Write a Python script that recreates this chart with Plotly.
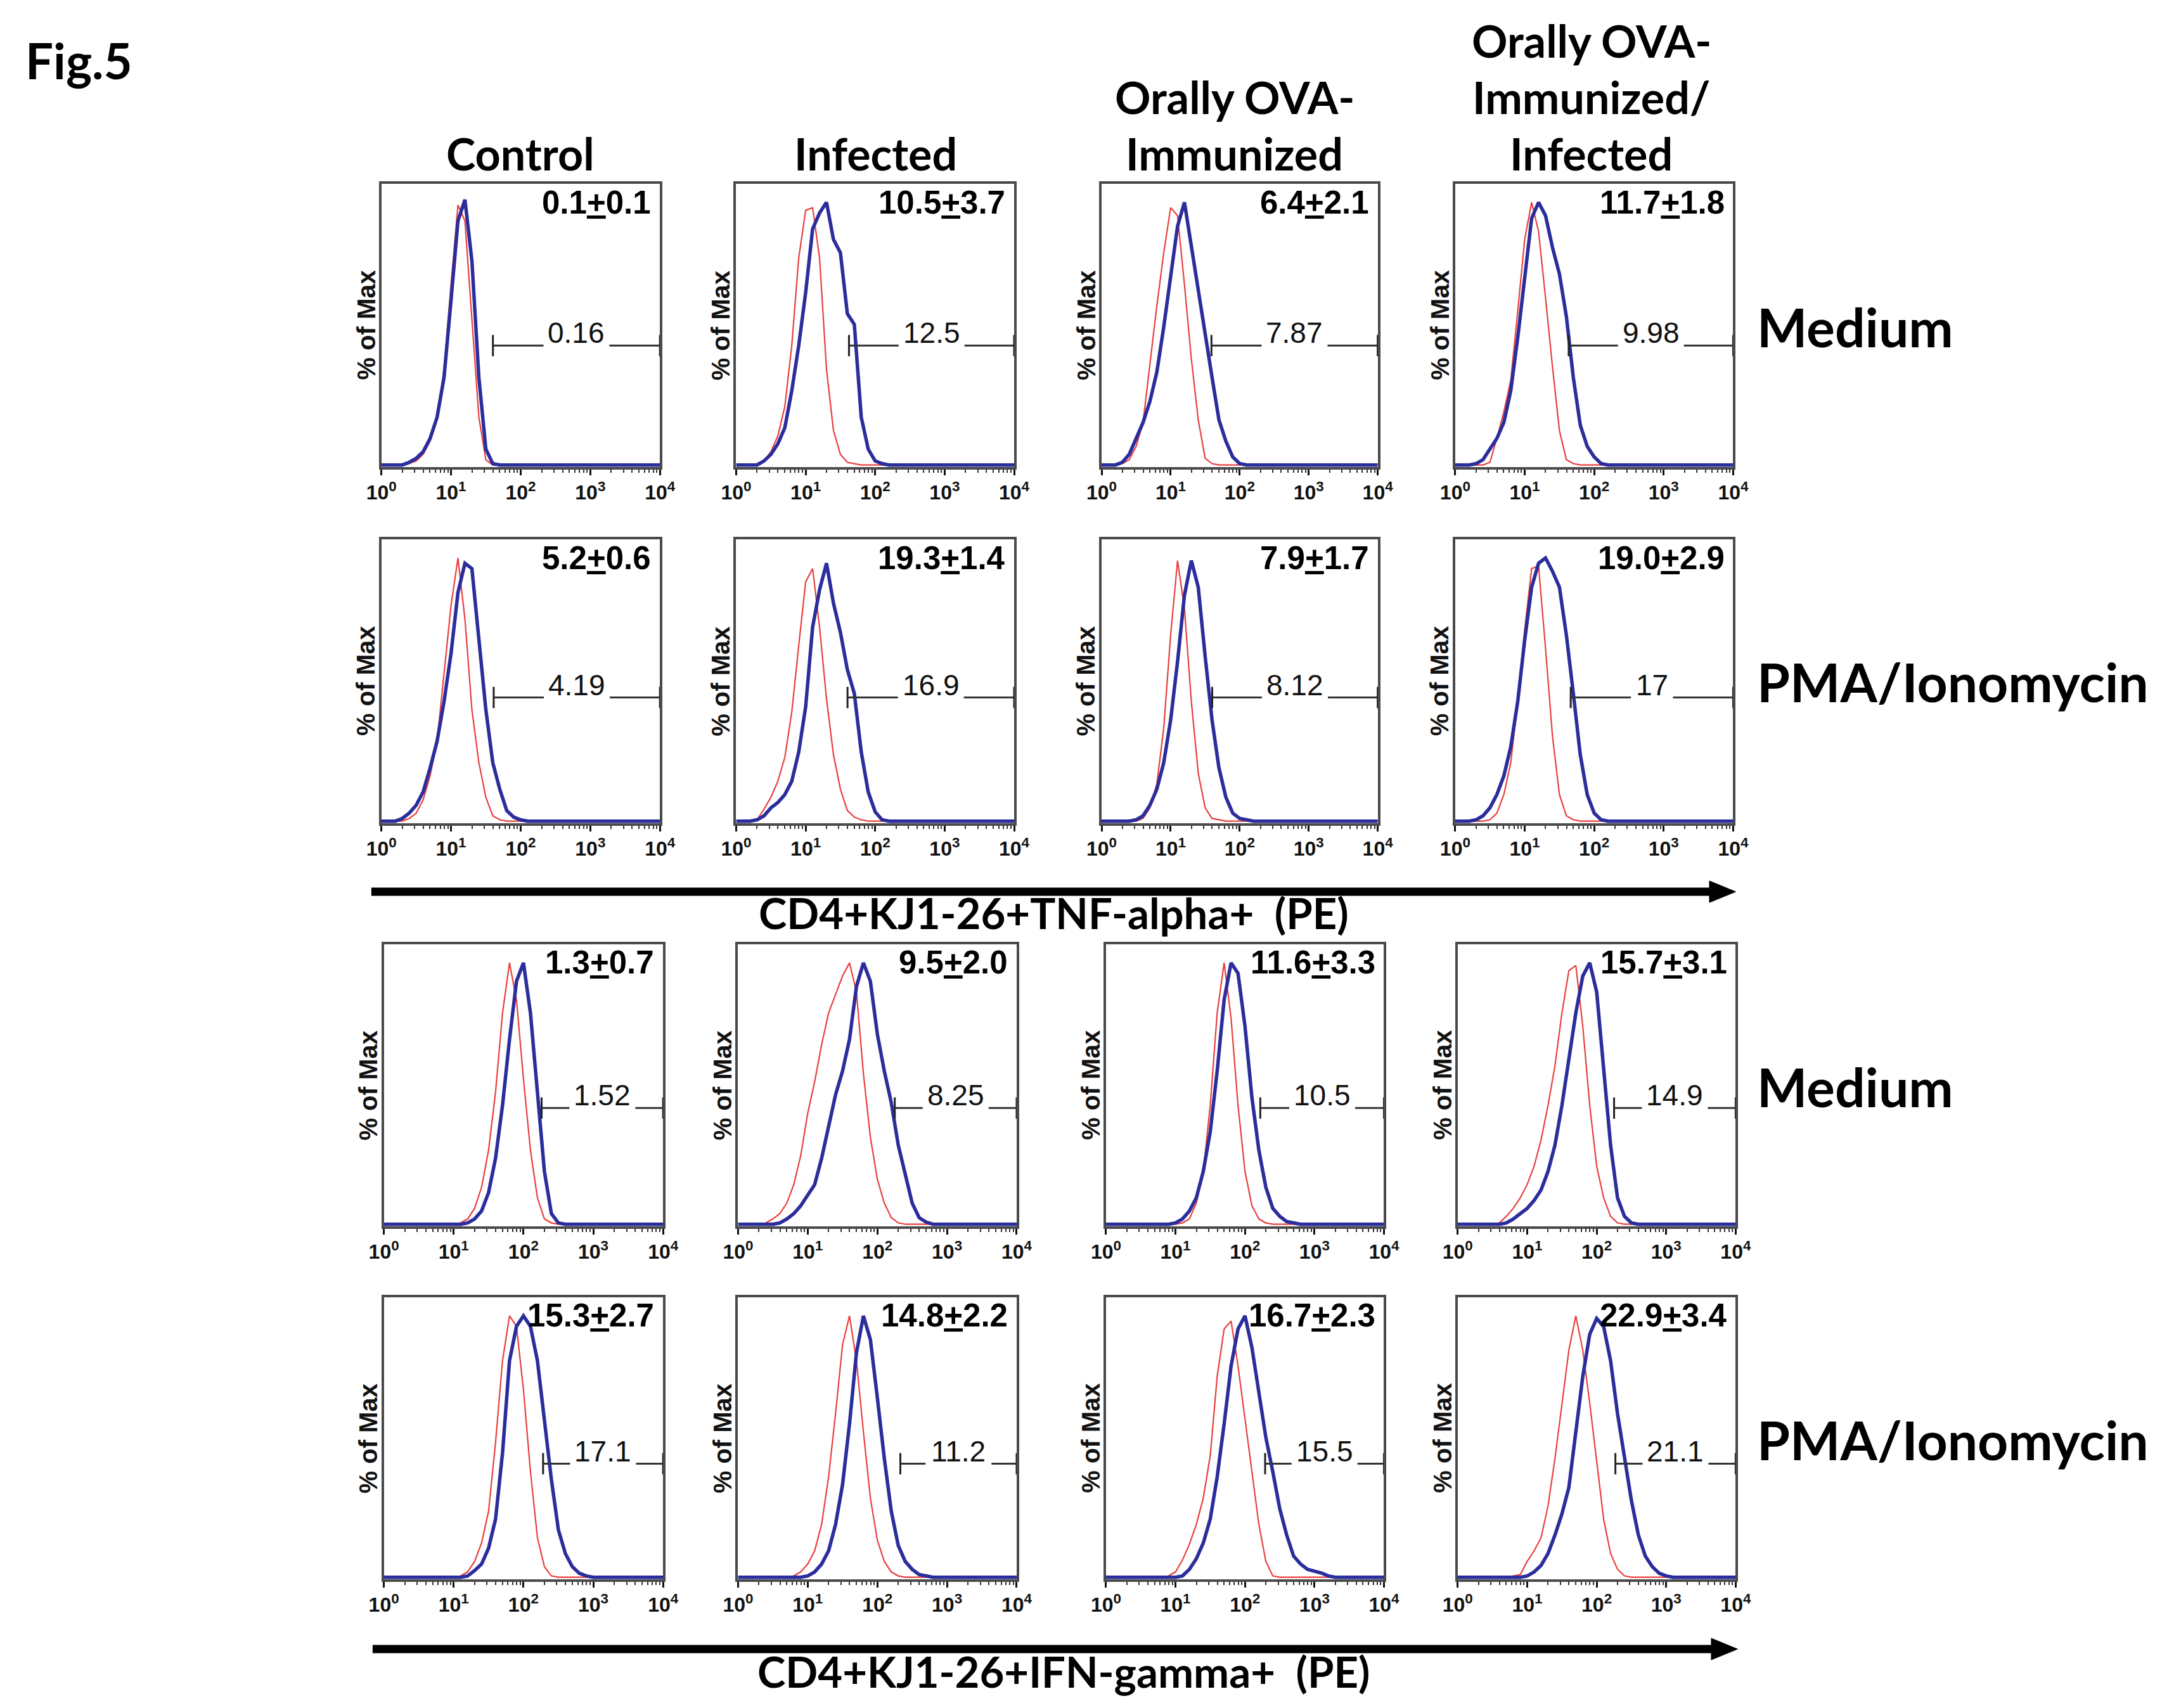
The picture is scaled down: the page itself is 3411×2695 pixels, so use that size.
import math
import plotly.graph_objects as go

# ---------------- data ----------------
LOG_BINS = [0.0, 0.1, 0.2, 0.3, 0.4, 0.5, 0.6, 0.7, 0.8, 0.9,
            1.0, 1.1, 1.2, 1.3, 1.4, 1.5, 1.6, 1.7, 1.8, 1.9,
            2.0, 2.1, 2.2, 2.3, 2.4, 2.5, 2.6, 2.7, 2.8, 2.9,
            3.0, 3.1, 3.2, 3.3, 3.4, 3.5, 3.6, 3.7, 3.8, 3.9, 4.0]

COLUMNS = ["Control", "Infected", "Orally OVA-<br>Immunized",
           "Orally OVA-<br>Immunized/<br>Infected"]
ROW_LABELS = ["Medium", "PMA/Ionomycin", "Medium", "PMA/Ionomycin"]
AXIS_TITLES = ["CD4+KJ1-26+TNF-alpha+  (PE)", "CD4+KJ1-26+IFN-gamma+  (PE)"]
TICK_VALS = [1, 10, 100, 1000, 10000]
TICK_TEXT = ["10<sup>0</sup>", "10<sup>1</sup>", "10<sup>2</sup>", "10<sup>3</sup>", "10<sup>4</sup>"]

MEAN = [[0.1, 10.5, 6.4, 11.7],
        [5.2, 19.3, 7.9, 19.0],
        [1.3, 9.5, 11.6, 15.7],
        [15.3, 14.8, 16.7, 22.9]]
SD = [[0.1, 3.7, 2.1, 1.8],
      [0.6, 1.4, 1.7, 2.9],
      [0.7, 2.0, 3.3, 3.1],
      [2.7, 2.2, 2.3, 3.4]]
GATE_PCT = [["0.16", "12.5", "7.87", "9.98"],
            ["4.19", "16.9", "8.12", "17"],
            ["1.52", "8.25", "10.5", "14.9"],
            ["17.1", "11.2", "15.5", "21.1"]]
GATE_LOW = [[40, 42, 39, 43],
            [41, 40, 40, 46],
            [182, 178, 166, 178],
            [191, 214, 195, 186]]
GATE_Y = [45, 46.5, 44, 43]

# TNF-alpha, medium
TNF_MED_CTRL_RED = [0, 0, 0, 0, 0.5, 1.5, 4, 9, 18, 36,
                    68, 98, 92, 55, 18, 2, 0, 0, 0, 0,
                    0, 0, 0, 0, 0, 0, 0, 0, 0, 0,
                    0, 0, 0, 0, 0, 0, 0, 0, 0, 0, 0]
TNF_MED_CTRL_BLUE = [0, 0, 0, 0, 1, 2.5, 5, 10, 18, 33,
                     62, 92, 100, 77, 33, 6, 0.5, 0, 0, 0,
                     0, 0, 0, 0, 0, 0, 0, 0, 0, 0,
                     0, 0, 0, 0, 0, 0, 0, 0, 0, 0, 0]
TNF_MED_INF_RED = [0, 0, 0, 0.5, 1.5, 5, 11, 22, 45, 78,
                   96, 97, 78, 36, 13, 4, 1, 0.5, 0, 0,
                   0, 0, 0, 0, 0, 0, 0, 0, 0, 0,
                   0, 0, 0, 0, 0, 0, 0, 0, 0, 0, 0]
TNF_MED_INF_BLUE = [0, 0, 0, 0, 1.5, 4, 8, 14, 28, 45,
                    65, 89, 95, 99, 85, 80, 57, 53, 18, 6,
                    1.5, 0.5, 0, 0, 0, 0, 0, 0, 0, 0,
                    0, 0, 0, 0, 0, 0, 0, 0, 0, 0, 0]
TNF_MED_OVA_RED = [0, 0, 0, 0.5, 2, 7, 16, 38, 60, 80,
                   97, 94, 68, 40, 17, 2.5, 0.5, 0, 0, 0,
                   0, 0, 0, 0, 0, 0, 0, 0, 0, 0,
                   0, 0, 0, 0, 0, 0, 0, 0, 0, 0, 0]
TNF_MED_OVA_BLUE = [0, 0, 0, 1, 4, 10, 16, 24, 35, 52,
                    72, 90, 99, 82, 65, 49, 33, 17, 9, 3,
                    0.5, 0, 0, 0, 0, 0, 0, 0, 0, 0,
                    0, 0, 0, 0, 0, 0, 0, 0, 0, 0, 0]
TNF_MED_OVAINF_RED = [0, 0, 0, 0, 0, 1, 10, 20, 32, 58,
                      85, 99, 88, 63, 37, 13, 2, 0.5, 0, 0,
                      0, 0, 0, 0, 0, 0, 0, 0, 0, 0,
                      0, 0, 0, 0, 0, 0, 0, 0, 0, 0, 0]
TNF_MED_OVAINF_BLUE = [0, 0, 0, 0.5, 2, 6, 10, 16, 28, 48,
                       72, 93, 99, 94, 82, 72, 56, 33, 15, 7,
                       3, 0.5, 0, 0, 0, 0, 0, 0, 0, 0,
                       0, 0, 0, 0, 0, 0, 0, 0, 0, 0, 0]
# TNF-alpha, PMA/Ionomycin
TNF_PMA_CTRL_RED = [0, 0, 0, 0, 1, 3, 8, 17, 30, 55,
                    81, 99, 76, 42, 22, 9, 2, 0.5, 0, 0,
                    0, 0, 0, 0, 0, 0, 0, 0, 0, 0,
                    0, 0, 0, 0, 0, 0, 0, 0, 0, 0, 0]
TNF_PMA_CTRL_BLUE = [0, 0, 0, 1, 3, 6, 11, 20, 30, 45,
                     63, 86, 97, 95, 70, 42, 22, 12, 4, 1.5,
                     0.5, 0, 0, 0, 0, 0, 0, 0, 0, 0,
                     0, 0, 0, 0, 0, 0, 0, 0, 0, 0, 0]
TNF_PMA_INF_RED = [0, 0, 0, 0.5, 4.5, 9, 15, 24, 41, 66,
                   90, 95, 73, 46, 25, 12, 4, 1.5, 0.5, 0,
                   0, 0, 0, 0, 0, 0, 0, 0, 0, 0,
                   0, 0, 0, 0, 0, 0, 0, 0, 0, 0, 0]
TNF_PMA_INF_BLUE = [0, 0, 0, 0.5, 2, 5, 7, 10, 15, 26,
                    43, 73, 87, 97, 82, 71, 57, 48, 26, 11,
                    3.5, 0.5, 0, 0, 0, 0, 0, 0, 0, 0,
                    0, 0, 0, 0, 0, 0, 0, 0, 0, 0, 0]
TNF_PMA_OVA_RED = [0, 0, 0, 0, 0, 0, 1, 5, 14, 35,
                   70, 98, 80, 45, 18, 5, 1, 0.5, 0, 0,
                   0, 0, 0, 0, 0, 0, 0, 0, 0, 0,
                   0, 0, 0, 0, 0, 0, 0, 0, 0, 0, 0]
TNF_PMA_OVA_BLUE = [0, 0, 0, 0, 0, 0.5, 2, 6, 12, 22,
                    38, 60, 85, 98, 88, 62, 38, 20, 9, 3,
                    1, 0.5, 0, 0, 0, 0, 0, 0, 0, 0,
                    0, 0, 0, 0, 0, 0, 0, 0, 0, 0, 0]
TNF_PMA_OVAINF_RED = [0, 0, 0, 0, 0, 0.5, 3, 10, 22, 45,
                      72, 95, 96, 65, 32, 10, 2, 0.5, 0, 0,
                      0, 0, 0, 0, 0, 0, 0, 0, 0, 0,
                      0, 0, 0, 0, 0, 0, 0, 0, 0, 0, 0]
TNF_PMA_OVAINF_BLUE = [0, 0, 0, 0.5, 2, 5, 10, 17, 28, 45,
                       68, 88, 97, 99, 94, 88, 70, 48, 25, 10,
                       3, 0.5, 0, 0, 0, 0, 0, 0, 0, 0,
                       0, 0, 0, 0, 0, 0, 0, 0, 0, 0, 0]
# IFN-gamma, medium
IFN_MED_CTRL_RED = [0, 0, 0, 0, 0, 0, 0, 0, 0, 0,
                    0, 0.5, 2, 6, 14, 28, 50, 80, 99, 85,
                    55, 28, 10, 2, 0.5, 0, 0, 0, 0, 0,
                    0, 0, 0, 0, 0, 0, 0, 0, 0, 0, 0]
IFN_MED_CTRL_BLUE = [0, 0, 0, 0, 0, 0, 0, 0, 0, 0,
                     0, 0, 0.5, 2, 5, 12, 25, 45, 70, 92,
                     99, 80, 50, 20, 4, 0.5, 0, 0, 0, 0,
                     0, 0, 0, 0, 0, 0, 0, 0, 0, 0, 0]
IFN_MED_INF_RED = [0, 0, 0, 0, 0.5, 2, 4, 8, 15, 26,
                   42, 54, 68, 80, 87, 94, 99, 88, 57, 33,
                   17, 8, 2.5, 0.5, 0, 0, 0, 0, 0, 0,
                   0, 0, 0, 0, 0, 0, 0, 0, 0, 0, 0]
IFN_MED_INF_BLUE = [0, 0, 0, 0, 0, 0, 0.5, 2, 4, 7,
                    11, 15, 25, 37, 49, 58, 70, 90, 99, 92,
                    72, 58, 46, 30, 19, 8, 2.5, 0.8, 0, 0,
                    0, 0, 0, 0, 0, 0, 0, 0, 0, 0, 0]
IFN_MED_OVA_RED = [0, 0, 0, 0, 0, 0, 0, 0, 0, 0,
                   0, 0.5, 2, 8, 20, 45, 80, 99, 78, 45,
                   20, 7, 2, 0.5, 0, 0, 0, 0, 0, 0,
                   0, 0, 0, 0, 0, 0, 0, 0, 0, 0, 0]
IFN_MED_OVA_BLUE = [0, 0, 0, 0, 0, 0, 0, 0, 0, 0,
                    0.5, 2, 5, 10, 20, 35, 58, 85, 99, 95,
                    75, 48, 28, 14, 6, 3, 1, 0.5, 0, 0,
                    0, 0, 0, 0, 0, 0, 0, 0, 0, 0, 0]
IFN_MED_OVAINF_RED = [0, 0, 0, 0, 0, 0, 0.5, 3, 6, 10,
                      15, 22, 32, 45, 60, 80, 96, 98, 75, 45,
                      22, 10, 3, 0.5, 0, 0, 0, 0, 0, 0,
                      0, 0, 0, 0, 0, 0, 0, 0, 0, 0, 0]
IFN_MED_OVAINF_BLUE = [0, 0, 0, 0, 0, 0, 0, 0.5, 2, 4,
                       6, 9, 13, 20, 30, 45, 62, 80, 94, 99,
                       88, 60, 30, 10, 3, 0.5, 0, 0, 0, 0,
                       0, 0, 0, 0, 0, 0, 0, 0, 0, 0, 0]
# IFN-gamma, PMA/Ionomycin
IFN_PMA_CTRL_RED = [0, 0, 0, 0, 0, 0, 0, 0, 0, 0,
                    0, 0.5, 2, 6, 13, 25, 51, 82, 99, 95,
                    71, 40, 15, 4, 0.5, 0, 0, 0, 0, 0,
                    0, 0, 0, 0, 0, 0, 0, 0, 0, 0, 0]
IFN_PMA_CTRL_BLUE = [0, 0, 0, 0, 0, 0, 0, 0, 0, 0,
                     0, 0, 0.5, 2.5, 5, 11, 22, 47, 82, 95,
                     99, 95, 82, 60, 37, 18, 9, 4, 1.5, 0.5,
                     0, 0, 0, 0, 0, 0, 0, 0, 0, 0, 0]
IFN_PMA_INF_RED = [0, 0, 0, 0, 0, 0, 0, 0, 0.5, 2,
                   5, 10, 20, 38, 62, 88, 99, 82, 55, 30,
                   14, 6, 2, 0.5, 0, 0, 0, 0, 0, 0,
                   0, 0, 0, 0, 0, 0, 0, 0, 0, 0, 0]
IFN_PMA_INF_BLUE = [0, 0, 0, 0, 0, 0, 0, 0, 0, 0,
                    0.5, 2, 5, 10, 20, 35, 58, 85, 99, 90,
                    68, 45, 25, 12, 6, 3, 1, 0.5, 0, 0,
                    0, 0, 0, 0, 0, 0, 0, 0, 0, 0, 0]
IFN_PMA_OVA_RED = [0, 0, 0, 0, 0, 0, 0, 0, 0, 0.5,
                   2, 6.5, 12.5, 20, 30, 46, 76, 94, 97, 80,
                   60, 40, 20, 6, 0.5, 0, 0, 0, 0, 0,
                   0, 0, 0, 0, 0, 0, 0, 0, 0, 0, 0]
IFN_PMA_OVA_BLUE = [0, 0, 0, 0, 0, 0, 0, 0, 0, 0,
                    0, 0.5, 3, 7, 13, 22, 38, 58, 80, 94,
                    99, 87, 71, 53, 40, 26, 16, 8, 5, 3,
                    2.3, 1.6, 0.5, 0, 0, 0, 0, 0, 0, 0, 0]
IFN_PMA_OVAINF_RED = [0, 0, 0, 0, 0, 0, 0, 0, 0.5, 1,
                      6, 10, 15, 27, 45, 66, 86, 99, 86, 66,
                      44, 22, 9, 3, 0.5, 0, 0, 0, 0, 0,
                      0, 0, 0, 0, 0, 0, 0, 0, 0, 0, 0]
IFN_PMA_OVAINF_BLUE = [0, 0, 0, 0, 0, 0, 0, 0, 0, 0,
                       0.5, 2, 4.5, 9, 16, 24, 34, 56, 76, 92,
                       98, 95, 82, 62, 45, 29, 16, 8, 4, 1.5,
                       0.5, 0, 0, 0, 0, 0, 0, 0, 0, 0, 0]

RED = [[TNF_MED_CTRL_RED, TNF_MED_INF_RED, TNF_MED_OVA_RED, TNF_MED_OVAINF_RED],
       [TNF_PMA_CTRL_RED, TNF_PMA_INF_RED, TNF_PMA_OVA_RED, TNF_PMA_OVAINF_RED],
       [IFN_MED_CTRL_RED, IFN_MED_INF_RED, IFN_MED_OVA_RED, IFN_MED_OVAINF_RED],
       [IFN_PMA_CTRL_RED, IFN_PMA_INF_RED, IFN_PMA_OVA_RED, IFN_PMA_OVAINF_RED]]
BLUE = [[TNF_MED_CTRL_BLUE, TNF_MED_INF_BLUE, TNF_MED_OVA_BLUE, TNF_MED_OVAINF_BLUE],
        [TNF_PMA_CTRL_BLUE, TNF_PMA_INF_BLUE, TNF_PMA_OVA_BLUE, TNF_PMA_OVAINF_BLUE],
        [IFN_MED_CTRL_BLUE, IFN_MED_INF_BLUE, IFN_MED_OVA_BLUE, IFN_MED_OVAINF_BLUE],
        [IFN_PMA_CTRL_BLUE, IFN_PMA_INF_BLUE, IFN_PMA_OVA_BLUE, IFN_PMA_OVAINF_BLUE]]

# ---------------- layout geometry (page pixels) ----------------
OFF = 8                      # default body margin of the html page
W, H = 3411 - 2 * OFF, 2695 - 2 * OFF


def px(x):
    return (x - OFF) / W


def py(y):
    return 1 - (y - OFF) / H


ROW_Y = [(290, 737), (851, 1299), (1490, 1935), (2047, 2492)]
COL_X_TOP = [(586, 1032), (1154, 1599), (1739, 2181), (2305, 2750)]
COL_X_BOT = [(590, 1037), (1157, 1603), (1746, 2191), (2309, 2754)]

SANS = "Liberation Sans, Arial, sans-serif"
LABEL = "Lato, Open Sans, sans-serif"
RED_C = "#e8403f"
BLUE_C = "#2b2d9c"
FRAME_C = "#4a4a4a"

fig = go.Figure()
axes = {}
annotations = []
shapes = []
minor_vals = [m * 10 ** d for d in range(4) for m in range(2, 10)]
xs = [10 ** b for b in LOG_BINS]

n = 0
for r in range(4):
    top, bot = ROW_Y[r]
    cols = COL_X_TOP if r < 2 else COL_X_BOT
    for c in range(4):
        n += 1
        x0, x1 = cols[c]
        sfx = "" if n == 1 else str(n)
        xr, yr = "x" + sfx, "y" + sfx
        axes["xaxis" + sfx] = dict(
            domain=[px(x0), px(x1)], anchor=yr, type="log", range=[0, 4],
            tickvals=TICK_VALS, ticktext=TICK_TEXT, ticks="outside", ticklen=9,
            tickwidth=3, tickcolor="#111",
            minor=dict(ticks="outside", ticklen=5, tickwidth=2, tickcolor="#333",
                       tickvals=minor_vals),
            tickfont=dict(family=SANS, size=32, color="#111", weight="bold"),
            showline=True, linecolor=FRAME_C, linewidth=4, mirror=True,
            showgrid=False, zeroline=False, fixedrange=True)
        axes["yaxis" + sfx] = dict(
            domain=[py(bot), py(top)], anchor=xr, range=[-0.8, 106],
            showticklabels=False, ticks="", showline=True, linecolor=FRAME_C,
            linewidth=4, mirror=True, showgrid=False, zeroline=False, fixedrange=True)

        fig.add_trace(go.Scatter(x=xs, y=RED[r][c], xaxis=xr, yaxis=yr, mode="lines",
                                 line=dict(color=RED_C, width=2.2), hoverinfo="skip"))
        fig.add_trace(go.Scatter(x=xs, y=BLUE[r][c], xaxis=xr, yaxis=yr, mode="lines",
                                 line=dict(color=BLUE_C, width=5.5), hoverinfo="skip"))

        # gate
        lo = GATE_LOW[r][c]
        llo = math.log10(lo)
        mid = (llo + 4) / 2
        gy = GATE_Y[r]
        label = GATE_PCT[r][c]
        width_px = sum(0.278 if ch == "." else 0.556 for ch in label) * 46
        gap = (width_px / 2 + 8) / ((x1 - x0) / 4)
        fig.add_trace(go.Scatter(
            x=[lo, 10 ** (mid - gap), None, 10 ** (mid + gap), 10 ** 4],
            y=[gy, gy, None, gy, gy], xaxis=xr, yaxis=yr, mode="lines",
            line=dict(color="#333", width=3), hoverinfo="skip"))
        fig.add_trace(go.Scatter(
            x=[lo, 10 ** 4], y=[gy, gy], xaxis=xr, yaxis=yr, mode="markers",
            marker=dict(symbol="line-ns", size=24, line=dict(width=3, color="#222")),
            cliponaxis=False, hoverinfo="skip"))
        annotations.append(dict(
            x=mid, y=gy, xref=xr, yref=yr, text=label, showarrow=False,
            yshift=20, xanchor="center", yanchor="middle",
            font=dict(family=SANS, size=46, color="#111")))
        annotations.append(dict(
            x=1 - 12 / (x1 - x0), y=0.935, xref=xr + " domain", yref=yr + " domain",
            text=f"{MEAN[r][c]:.1f}<u>+</u>{SD[r][c]:.1f}", showarrow=False,
            xanchor="right", yanchor="middle",
            font=dict(family=SANS, size=51, color="#000", weight="bold")))
        annotations.append(dict(
            x=-25 / (x1 - x0), y=0.5, xref=xr + " domain", yref=yr + " domain",
            text="% of Max", textangle=-90, showarrow=False,
            xanchor="center", yanchor="middle",
            font=dict(family=SANS, size=40, color="#111", weight="bold")))

# column headers
COL_CENTERS = [809, 1377, 1952, 2523]
for c, title in enumerate(COLUMNS):
    lines = title.split("<br>")
    for i, line in enumerate(lines):
        yc = 242 - 89 * (len(lines) - 1 - i)
        annotations.append(dict(
            x=px(COL_CENTERS[c]), y=py(yc), xref="paper", yref="paper", text=line,
            showarrow=False, xanchor="center", yanchor="middle",
            font=dict(family=LABEL, size=70, color="#000", weight="bold")))

# row labels
ROW_LABEL_Y = [515, 1075, 1714, 2271]
for r, lab in enumerate(ROW_LABELS):
    annotations.append(dict(
        x=px(2786), y=py(ROW_LABEL_Y[r]), xref="paper", yref="paper", text=lab,
        showarrow=False, xanchor="left", yanchor="middle",
        font=dict(family=LABEL, size=84, color="#000", weight="bold")))

# figure tag
annotations.append(dict(
    x=px(14), y=py(95), xref="paper", yref="paper", text="Fig.5", showarrow=False,
    xanchor="left", yanchor="middle",
    font=dict(family=LABEL, size=78, color="#000", weight="bold")))

# shared x-axis arrows and titles
ARROWS = [(570, 2712, 2754, 1407), (572, 2715, 2757, 2602)]
TITLE_POS = [(1662, 1440), (1678, 2637)]
for (xa, xb, xt, ya), (tx, ty), ttl in zip(ARROWS, TITLE_POS, AXIS_TITLES):
    shapes.append(dict(type="line", xref="paper", yref="paper",
                       x0=px(xa), x1=px(xb + 4), y0=py(ya), y1=py(ya),
                       line=dict(color="#000", width=13)))
    shapes.append(dict(type="path", xref="paper", yref="paper",
                       path=f"M {px(xt)} {py(ya)} L {px(xb)} {py(ya - 17)} "
                            f"L {px(xb)} {py(ya + 17)} Z",
                       fillcolor="#000", line=dict(color="#000", width=1)))
    annotations.append(dict(
        x=px(tx), y=py(ty), xref="paper", yref="paper", text=ttl, showarrow=False,
        xanchor="center", yanchor="middle",
        font=dict(family=LABEL, size=67, color="#000", weight="bold")))

fig.update_layout(
    width=W, height=H, margin=dict(l=0, r=0, t=0, b=0),
    paper_bgcolor="white", plot_bgcolor="white", showlegend=False,
    annotations=annotations, shapes=shapes, **axes)

fig.write_html("out.html")
